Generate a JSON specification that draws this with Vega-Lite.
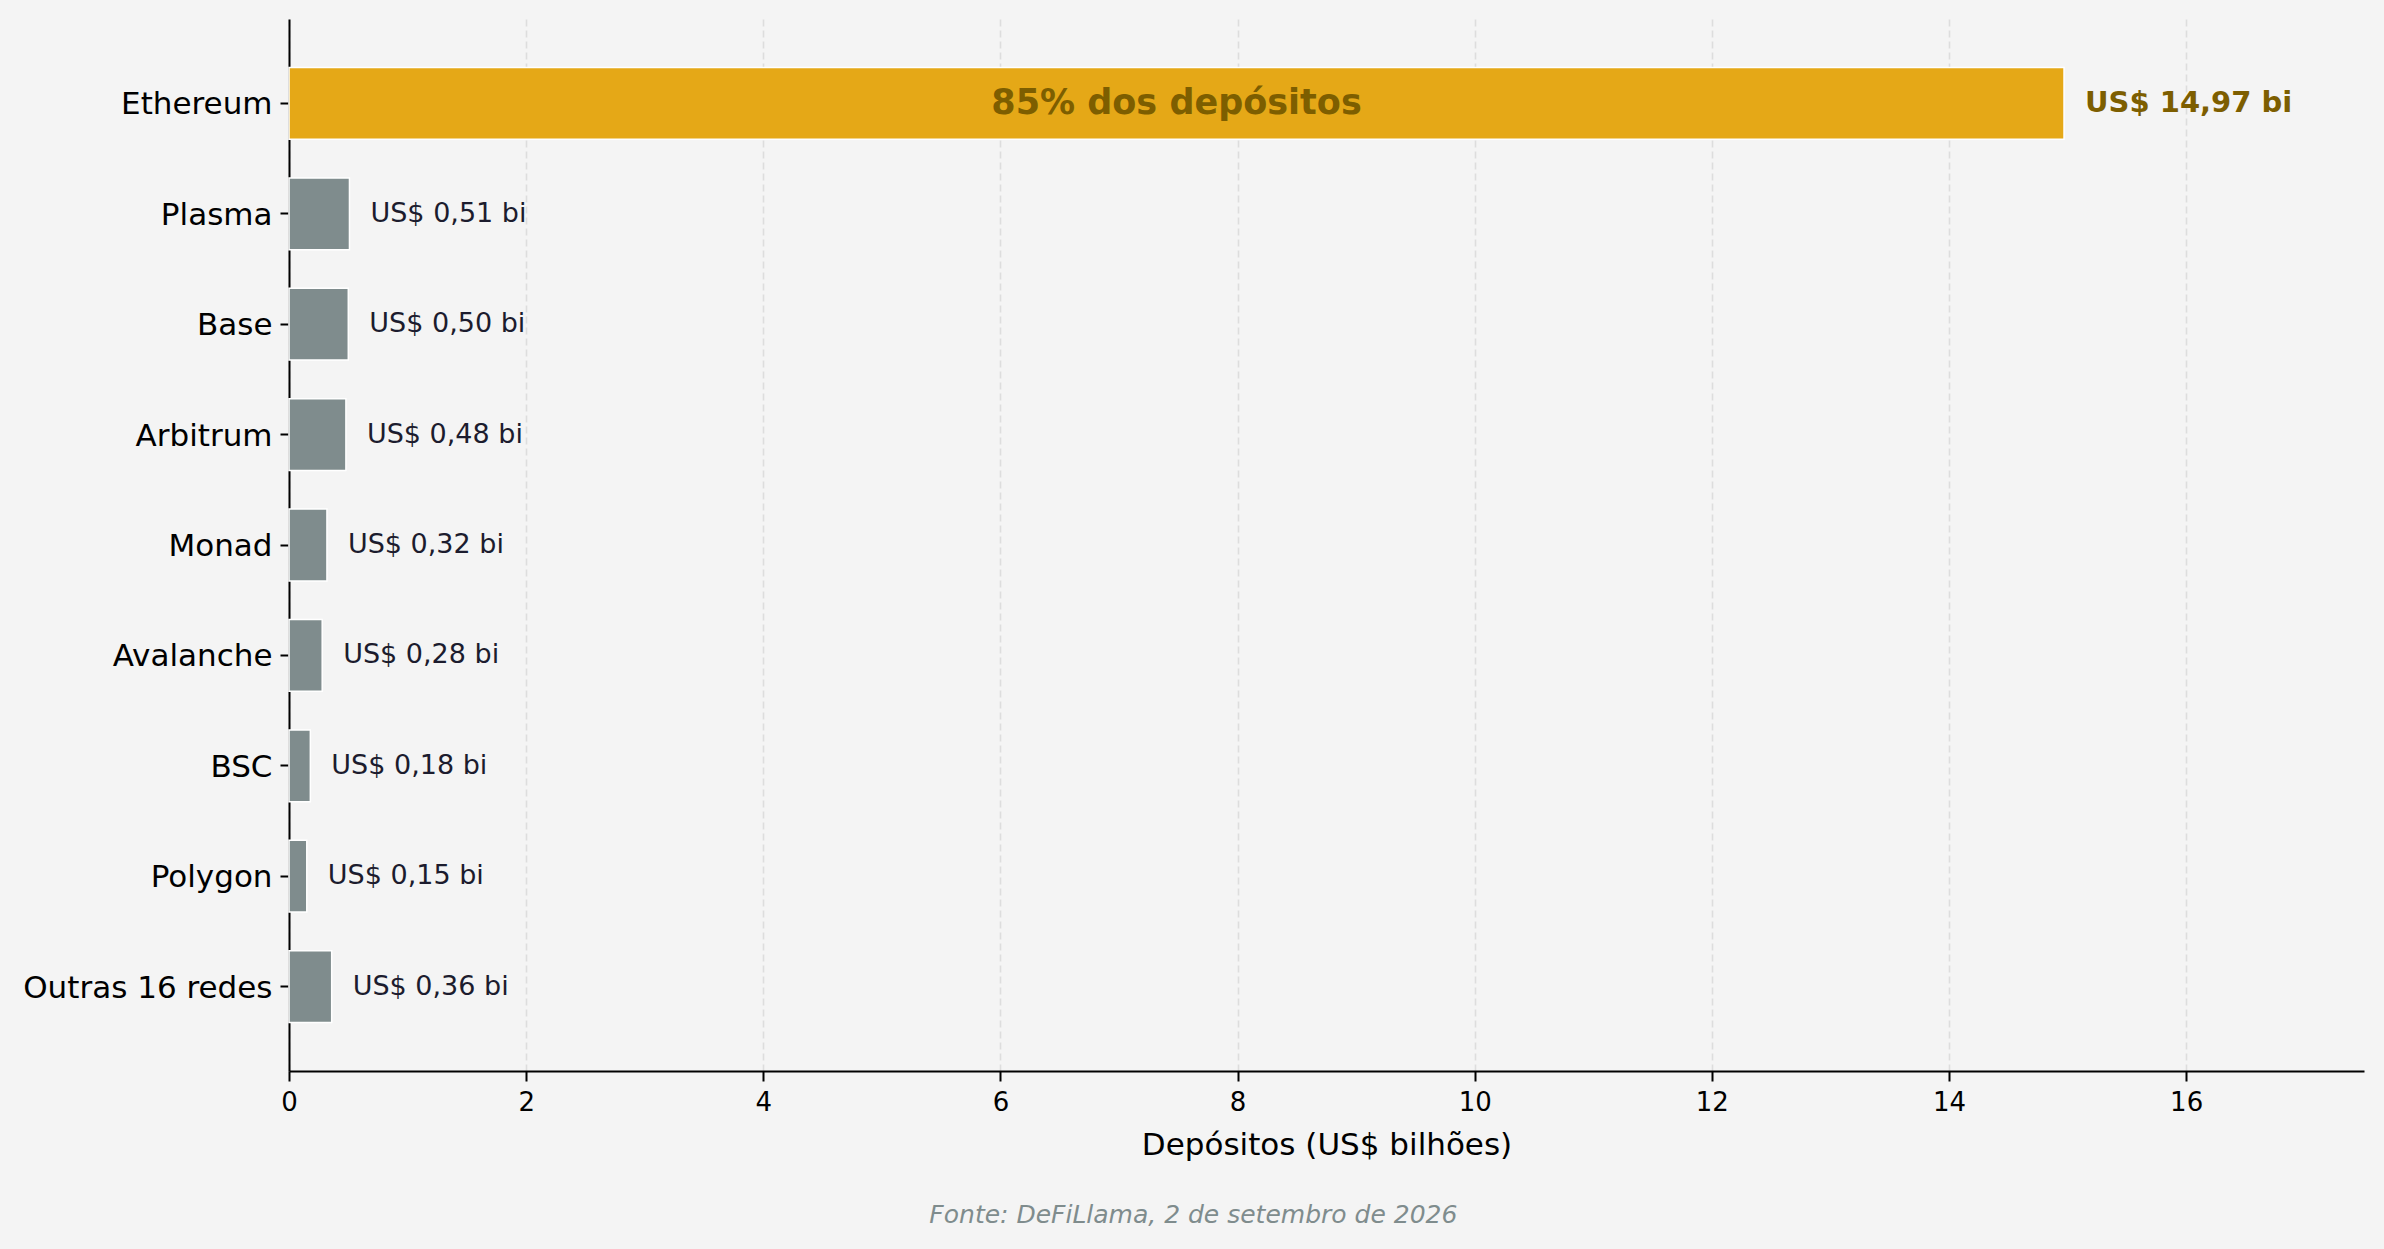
{
  "$schema": "https://vega.github.io/schema/vega-lite/v6.json",
  "autosize": "none",
  "width": 2075,
  "height": 1052,
  "padding": {"left": 289, "top": 19, "right": 20, "bottom": 178},
  "background": "#f4f4f4",
  "config": {
    "view": {"stroke": null, "fill": "#f4f4f4"},
    "font": "DejaVu Sans"
  },
  "title": {
    "text": "Fonte: DeFiLlama, 2 de setembro de 2026",
    "orient": "bottom",
    "anchor": "middle",
    "frame": "bounds",
    "font": "DejaVu Sans",
    "fontSize": 25,
    "fontStyle": "italic",
    "fontWeight": "normal",
    "color": "#7f8c8d",
    "offset": 43
  },
  "data": {
    "values": [
      {"rede": "Ethereum", "valor": 14.97, "rotulo": "US$ 14,97 bi", "nota": "85% dos depósitos"},
      {"rede": "Plasma", "valor": 0.51, "rotulo": "US$ 0,51 bi", "nota": ""},
      {"rede": "Base", "valor": 0.50, "rotulo": "US$ 0,50 bi", "nota": ""},
      {"rede": "Arbitrum", "valor": 0.48, "rotulo": "US$ 0,48 bi", "nota": ""},
      {"rede": "Monad", "valor": 0.32, "rotulo": "US$ 0,32 bi", "nota": ""},
      {"rede": "Avalanche", "valor": 0.28, "rotulo": "US$ 0,28 bi", "nota": ""},
      {"rede": "BSC", "valor": 0.18, "rotulo": "US$ 0,18 bi", "nota": ""},
      {"rede": "Polygon", "valor": 0.15, "rotulo": "US$ 0,15 bi", "nota": ""},
      {"rede": "Outras 16 redes", "valor": 0.36, "rotulo": "US$ 0,36 bi", "nota": ""}
    ]
  },
  "encoding": {
    "y": {
      "field": "rede",
      "type": "nominal",
      "sort": null,
      "scale": {"paddingInner": 0.35, "paddingOuter": 0.44},
      "axis": {
        "title": null,
        "domainColor": "#000000",
        "domainWidth": 2,
        "tickColor": "#000000",
        "tickWidth": 2,
        "tickSize": 9,
        "labelPadding": 8,
        "labelOffset": 2,
        "labelLimit": 0,
        "labelFont": "DejaVu Sans",
        "labelFontSize": 31,
        "labelColor": "#000000",
        "grid": false
      }
    }
  },
  "layer": [
    {
      "mark": {"type": "bar", "stroke": "#ffffff", "strokeWidth": 1.5},
      "encoding": {
        "x": {
          "field": "valor",
          "type": "quantitative",
          "scale": {"domain": [0, 17.5], "nice": false, "zero": true},
          "axis": {
            "title": "Depósitos (US$ bilhões)",
            "titleFont": "DejaVu Sans",
            "titleFontSize": 31,
            "titleFontWeight": "normal",
            "titleColor": "#000000",
            "titlePadding": 15,
            "values": [0, 2, 4, 6, 8, 10, 12, 14, 16],
            "format": "d",
            "domainColor": "#000000",
            "domainWidth": 2,
            "tickColor": "#000000",
            "tickWidth": 2,
            "tickSize": 10,
            "labelPadding": 8,
            "labelFlush": false,
            "labelFont": "DejaVu Sans",
            "labelFontSize": 26,
            "labelColor": "#000000",
            "grid": true,
            "gridColor": "#dddddd",
            "gridWidth": 1.6,
            "gridDash": [7, 4]
          }
        },
        "color": {
          "condition": {"test": "datum.rede === 'Ethereum'", "value": "#e5a817"},
          "value": "#7f8c8d"
        }
      }
    },
    {
      "transform": [{"filter": "datum.rede !== 'Ethereum'"}],
      "mark": {"type": "text", "align": "left", "baseline": "middle", "dx": 21, "font": "DejaVu Sans", "fontSize": 27, "color": "#1c1c2e"},
      "encoding": {
        "x": {"field": "valor", "type": "quantitative"},
        "text": {"field": "rotulo"}
      }
    },
    {
      "transform": [{"filter": "datum.rede === 'Ethereum'"}],
      "mark": {"type": "text", "align": "left", "baseline": "middle", "dx": 21, "font": "DejaVu Sans", "fontSize": 29, "fontWeight": "bold", "color": "#7d5e00"},
      "encoding": {
        "x": {"field": "valor", "type": "quantitative"},
        "text": {"field": "rotulo"}
      }
    },
    {
      "transform": [
        {"filter": "datum.nota !== ''"},
        {"calculate": "datum.valor / 2", "as": "meio"}
      ],
      "mark": {"type": "text", "align": "center", "baseline": "middle", "font": "DejaVu Sans", "fontWeight": "bold", "fontSize": 35, "color": "#7d5e00"},
      "encoding": {
        "x": {"field": "meio", "type": "quantitative"},
        "text": {"field": "nota"}
      }
    }
  ]
}
